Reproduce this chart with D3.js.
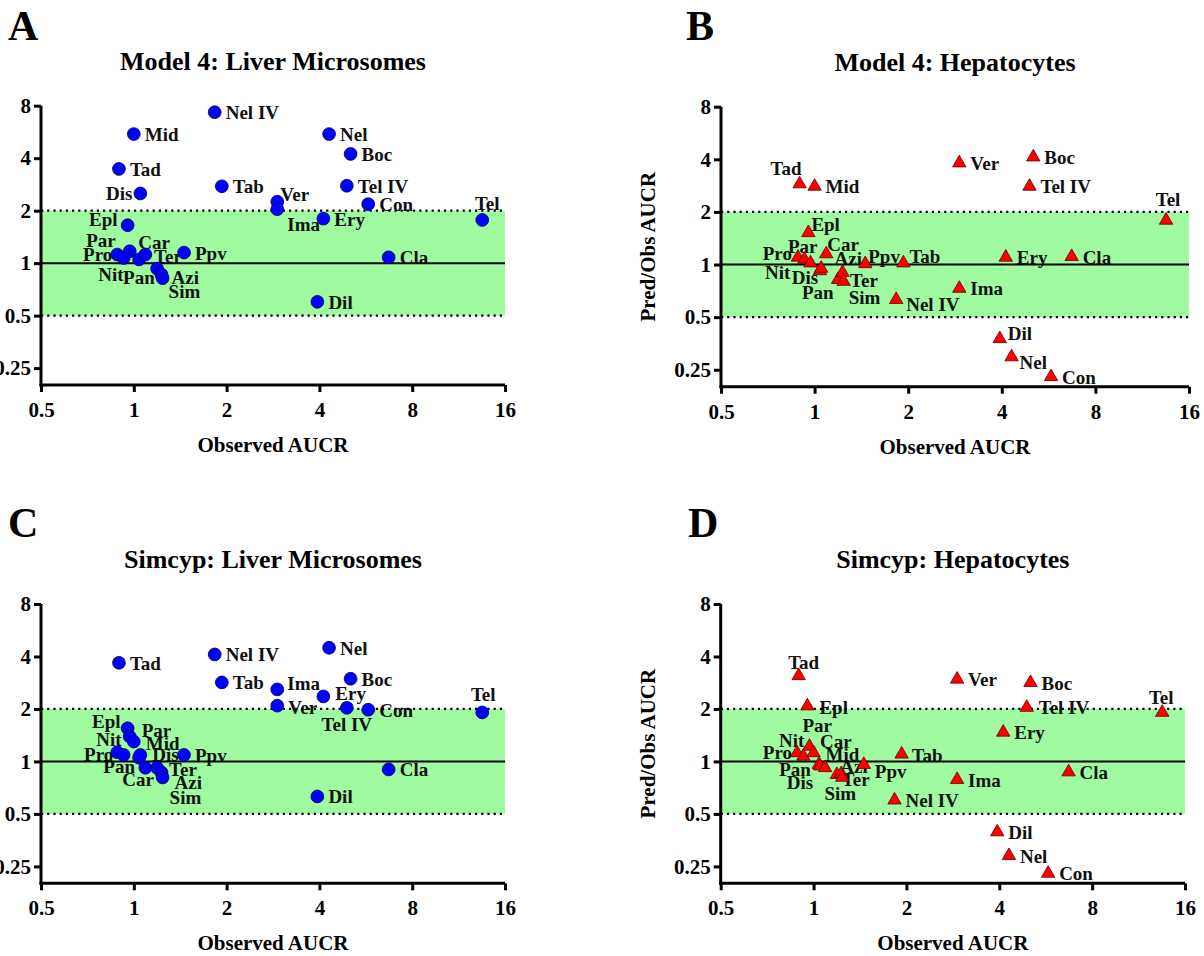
<!DOCTYPE html>
<html><head><meta charset="utf-8">
<script src="https://cdn.jsdelivr.net/npm/d3@7"></script>
<style>
html,body{margin:0;padding:0;background:#fff;}
svg{display:block;font-family:"Liberation Serif","Times New Roman",serif;font-weight:bold;}
</style></head>
<body><svg id="chart" width="1204" height="956"></svg>
<script>
// ---------- DATA ----------
const drugs = ["Pro","Nit","Epl","Par","Tad","Mid","Pan","Dis","Car","Ter","Azi","Sim","Ppv","Nel IV","Tab","Ver","Ima","Dil","Ery","Nel","Tel IV","Boc","Con","Cla","Tel"];
const observedAUCR = [0.884,0.927,0.955,0.97,0.895,1.0,1.04,1.05,1.09,1.19,1.23,1.24,1.455,1.83,1.93,2.92,2.92,3.94,4.12,4.3,4.91,5.05,5.76,6.71,13.5];
const model4Microsomes = [1.12,1.07,1.65,1.17,3.47,5.5,1.05,2.51,1.12,0.93,0.86,0.82,1.15,7.34,2.76,2.25,2.04,0.60,1.80,5.5,2.78,4.23,2.18,1.08,1.77];
const model4Hepatocytes = [1.10,1.07,1.52,1.02,2.89,2.8,0.92,0.95,1.15,0.82,0.90,0.80,1.01,0.63,1.02,3.81,0.73,0.376,1.10,0.296,2.8,4.12,0.228,1.11,1.79];
const simcypMicrosomes = [1.13,1.09,1.55,1.39,3.68,1.30,1.05,1.09,0.92,0.92,0.865,0.81,1.09,4.11,2.84,2.09,2.59,0.63,2.36,4.49,2.03,2.98,1.98,0.90,1.91];
const simcypHepatocytes = [1.12,1.07,2.08,1.22,3.1,1.12,0.96,0.94,0.92,0.84,0.85,0.81,0.96,0.60,1.10,2.96,0.786,0.394,1.47,0.288,2.04,2.83,0.228,0.87,1.91];
const xTicks = [0.5,1,2,4,8,16];
const yTicks = [0.25,0.5,1,2,4,8];
const panelTitles = ["Model 4: Liver Microsomes","Model 4: Hepatocytes","Simcyp: Liver Microsomes","Simcyp: Hepatocytes"];
const panelLetters = ["A","B","C","D"];
const xTitle = "Observed AUCR";
const yTitle = "Pred/Obs AUCR";

// ---------- LAYOUT (label placement: [anchor, dx, dy]) ----------
const labA = {"Dis":["end",-8,7],"Epl":["end",-10,1],"Par":["end",-14,-4],"Pro":["end",-5,6],"Nit":["end",0,23],
  "Pan":["start",-16,25],"Car":["start",-7,-6],"Ter":["start",-3,-6],"Azi":["start",10,9],"Sim":["start",6,20],
  "Ver":["start",3,-1],"Ima":["start",10,22],"Tel":["middle",5,-10]};
const labB = {"Tad":["end",2,-9],"Epl":["start",3,-2],"Par":["end",7,-10],"Pro":["end",-6,3],"Nit":["end",-14,20],
  "Dis":["end",-3,16],"Pan":["start",-18,28],"Car":["start",1,-3],"Azi":["start",-8,-8],"Ter":["start",12,7],
  "Sim":["start",5,23],"Ppv":["start",3,-1],"Tab":["start",6,0],"Tel":["middle",2,-14],"Nel IV":["start",10,11],
  "Dil":["start",8,1],"Nel":["start",8,12]};
const labC = {"Epl":["end",-7,0],"Par":["start",12,0],"Nit":["end",-2,-9],"Mid":["start",12,8],"Pro":["end",-4,9],
  "Dis":["start",12,6],"Pan":["end",-4,15],"Car":["start",-23,18],"Ter":["start",12,8],"Azi":["start",13,17],
  "Sim":["start",7,27],"Ima":["start",10,1],"Ery":["start",12,4],"Ver":["start",11,8],"Tel IV":["middle",0,23],
  "Tel":["middle",1,-11]};
const labD = {"Tad":["middle",5,-7],"Epl":["start",12,8],"Par":["start",-7,-14],"Nit":["end",1,-9],"Car":["start",-5,-20],
  "Pro":["end",-5,6],"Mid":["start",12,8],"Azi":["start",-1,-1],"Pan":["end",-8,11],"Ppv":["start",11,13],
  "Dis":["end",-7,23],"Ter":["start",5,11],"Sim":["start",-18,23],"Tel IV":["start",12,7],"Tel":["middle",-1,-8],
  "Tab":["start",10,8]};

const panels = [
  {values:model4Microsomes, x0:41, x1:505, yTop:105.7, yBot:385, shape:"circle", labels:labA, letterX:8, letterY:40, yLabel:false},
  {values:model4Hepatocytes, x0:721, x1:1189, yTop:106.7, yBot:386.7, shape:"tri", labels:labB, letterX:686, letterY:40, yLabel:true},
  {values:simcypMicrosomes, x0:41, x1:505, yTop:604, yBot:883.3, shape:"circle", labels:labC, letterX:8, letterY:537, yLabel:false},
  {values:simcypHepatocytes, x0:720.7, x1:1185, yTop:604, yBot:883.3, shape:"tri", labels:labD, letterX:688, letterY:537, yLabel:true}
];

const svg = d3.select("#chart");
const FONT = "'Liberation Serif', 'Times New Roman', serif";

panels.forEach((p, pi) => {
  const x = d3.scaleLog().base(2).domain([0.5,16]).range([p.x0,p.x1]);
  const y = d3.scaleLog().base(2).domain([0.2,8]).range([p.yBot,p.yTop]);
  const g = svg.append("g").attr("font-family",FONT).attr("font-weight","bold");

  // band
  g.append("rect").attr("x",x(0.5)).attr("width",x(16)-x(0.5))
    .attr("y",y(2)).attr("height",y(0.5)-y(2)).attr("fill","#a0fba0");

  // labels
  const data = drugs.map((d,i)=>({name:d, x:observedAUCR[i], y:p.values[i]}));
  g.selectAll("text.lab").data(data).join("text").attr("class","lab")
    .attr("x",d=>x(d.x)+(p.labels[d.name]?p.labels[d.name][1]:11))
    .attr("y",d=>y(d.y)+(p.labels[d.name]?p.labels[d.name][2]:7))
    .attr("text-anchor",d=>p.labels[d.name]?p.labels[d.name][0]:"start")
    .attr("font-size",19).attr("fill","#111").text(d=>d.name);

  // reference lines
  [0.5,2].forEach(v=>{
    g.append("line").attr("x1",x(0.5)).attr("x2",x(16)).attr("y1",y(v)).attr("y2",y(v))
      .attr("stroke","#000").attr("stroke-width",2.2).attr("stroke-dasharray","2.2,4");
  });
  g.append("line").attr("x1",x(0.5)).attr("x2",x(16)).attr("y1",y(1)).attr("y2",y(1))
    .attr("stroke","#000").attr("stroke-width",2);

  // points
  if (p.shape==="circle") {
    g.selectAll("circle.pt").data(data).join("circle").attr("class","pt")
      .attr("cx",d=>x(d.x)).attr("cy",d=>y(d.y)).attr("r",6.4)
      .attr("fill","#0000ff").attr("stroke","#000050").attr("stroke-width",0.8);
  } else {
    const tri = d3.symbol().type(d3.symbolTriangle).size(78);
    g.selectAll("path.pt").data(data).join("path").attr("class","pt")
      .attr("transform",d=>`translate(${x(d.x)},${y(d.y)})`).attr("d",tri)
      .attr("fill","#ff0000").attr("stroke","#600000").attr("stroke-width",0.8);
  }

  // axes
  const xAxis = d3.axisBottom(x).tickValues(xTicks).tickFormat(d=>d).tickSize(7).tickSizeOuter(0).tickPadding(10);
  const yAxis = d3.axisLeft(y).tickValues(yTicks).tickFormat(d=>d).tickSize(7).tickSizeOuter(0).tickPadding(3);
  const gx = g.append("g").attr("transform",`translate(0,${p.yBot})`).call(xAxis);
  const gy = g.append("g").attr("transform",`translate(${p.x0},0)`).call(yAxis);
  [gx,gy].forEach(a=>{
    a.attr("font-family",FONT).attr("font-weight","bold").attr("font-size",21);
    a.select(".domain").attr("stroke","#000").attr("stroke-width",3);
    a.selectAll(".tick line").attr("stroke","#000").attr("stroke-width",3);
    a.selectAll(".tick text").attr("fill","#000");
  });
  gy.select(".domain").attr("d",`M0,${y(8)}V${p.yBot+1.5}`);
  gx.select(".domain").attr("d",`M${p.x0-1.5},0H${p.x1}`);

  // titles
  const cx = (p.x0+p.x1)/2;
  g.append("text").attr("x",cx).attr("y",p.yTop-36).attr("text-anchor","middle")
    .attr("font-size",26).text(panelTitles[pi]);
  g.append("text").attr("x",cx).attr("y",p.yBot+67).attr("text-anchor","middle")
    .attr("font-size",21).text(xTitle);
  if (p.yLabel) {
    g.append("text").attr("transform",`translate(${p.x0-66},${(p.yTop+p.yBot)/2}) rotate(-90)`)
      .attr("text-anchor","middle").attr("font-size",21).text(yTitle);
  }
  g.append("text").attr("x",p.letterX).attr("y",p.letterY).attr("font-size",42).text(panelLetters[pi]);
});
</script></body></html>
